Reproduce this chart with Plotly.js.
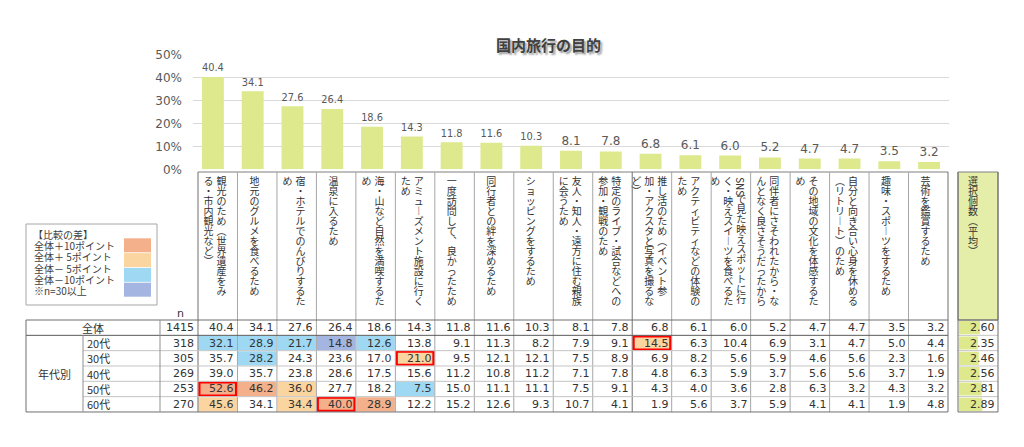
<!DOCTYPE html>
<html><head><meta charset="utf-8">
<script src="https://cdn.plot.ly/plotly-3.0.1.min.js"></script>
<style>html,body{margin:0;padding:0;background:#fff;}#chart{width:1024px;height:447px;}</style>
</head><body><div id="chart"></div>
<script>
// ---------------- data ----------------
const chartTitle = '国内旅行の目的';
// '|' marks the line breaks of the vertical header labels
const categories = [
  '観光のため（世界遺産をみ|る・市内観光など）',
  '地元のグルメを食べるため',
  '宿・ホテルでのんびりするた|め',
  '温泉に入るため',
  '海・山など自然を満喫するた|め',
  'アミューズメント施設に行く|ため',
  '一度訪問して、良かったため',
  '同行者との絆を深めるため',
  'ショッピングをするため',
  '友人・知人・遠方に住む親族|に会うため',
  '特定のライブ・試合などへの|参加・観戦のため',
  '推し活のため（イベント参|加・アクスタと写真を撮るな|ど）',
  'アクティビティなどの体験の|ため',
  'SNSで見た映えスポットに行|く・映えスイーツを食べるた|め',
  '同伴者にさそわれたから・な|んとなく良さそうだったから',
  'その地域の文化を体感するた|め',
  '自分と向き合い心身を休める|（リトリート）のため',
  '趣味・スポーツをするため',
  '芸術を鑑賞するため'
];
const overall = [40.4,34.1,27.6,26.4,18.6,14.3,11.8,11.6,10.3,8.1,7.8,6.8,6.1,6.0,5.2,4.7,4.7,3.5,3.2];
const age20 = [32.1,28.9,21.7,14.8,12.6,13.8,9.1,11.3,8.2,7.9,9.1,14.5,6.3,10.4,6.9,3.1,4.7,5.0,4.4];
const age30 = [35.7,28.2,24.3,23.6,17.0,21.0,9.5,12.1,12.1,7.5,8.9,6.9,8.2,5.6,5.9,4.6,5.6,2.3,1.6];
const age40 = [39.0,35.7,23.8,28.6,17.5,15.6,11.2,10.8,11.2,7.1,7.8,4.8,6.3,5.9,3.7,5.6,5.6,3.7,1.9];
const age50 = [52.6,46.2,36.0,27.7,18.2,7.5,15.0,11.1,11.1,7.5,9.1,4.3,4.0,3.6,2.8,6.3,3.2,4.3,3.2];
const age60 = [45.6,34.1,34.4,40.0,28.9,12.2,15.2,12.6,9.3,10.7,4.1,1.9,5.6,3.7,5.9,4.1,4.1,1.9,4.8];
const overallLabel = '全体';
const groupLabel = '年代別';
const ageLabels = ['20代','30代','40代','50代','60代'];
const nOverall = 1415;
const nAges = [318,305,269,253,270];
const avgHeader = '選択個数（平均）';
const avgSelected = [2.60,2.35,2.46,2.56,2.81,2.89];
const nHeader = 'n';
const legendTitle = '【比較の差】';
const legendItems = ['全体＋10ポイント','全体＋ 5ポイント','全体－ 5ポイント','全体－10ポイント'];
const legendNote = '※n=30以上';

// ---------------- styles / geometry ----------------
const W = 1024, H = 447;
const BAR_COLOR = '#DDE98C';
const DIFF_COLORS = ['#F4B08A', '#FBD5A0', '#9ED8F2', '#A3B5E0']; // +10, +5, -5, -10
const JP = 'Noto Sans CJK JP, Noto Sans, sans-serif';
const NUM = 'DejaVu Sans, Noto Sans CJK JP, sans-serif';
const TXT = '#333333';
const TABLE_L = 198, TABLE_R = 948, COLW = (TABLE_R - TABLE_L) / categories.length;
const HEAD_T = 172, DATA_T = 320, ROWH = 15.33;
const LEFT_L = 26, AGE_X = 83, N_X = 160;
const SEL_L = 958, SEL_R = 998;
const CHAR_P = 10, HEAD_Y0 = 182, LINE_P = 13;
const colL = k => TABLE_L + k * COLW;
const rowT = r => DATA_T + r * ROWH;

const catNames = categories.map(s => s.replace(/\|/g, ''));
const rows = [overall, age20, age30, age40, age50, age60];
const rowNames = [overallLabel].concat(ageLabels);
const nAll = [nOverall].concat(nAges);

const shapes = [], annotations = [];
const P = {xref: 'x3', yref: 'y3'};
function line(x0, y0, x1, y1, color, w) {
  shapes.push(Object.assign({type: 'line', x0, y0, x1, y1, line: {color, width: w || 1}, layer: 'above'}, P));
}
function rect(x0, y0, x1, y1, fill, lc, lw, layer) {
  shapes.push(Object.assign({type: 'rect', x0, y0, x1, y1, fillcolor: fill,
    line: {color: lc || 'rgba(0,0,0,0)', width: lw || 0}, layer: layer || 'below'}, P));
}
function text(x, y, t, opts) {
  annotations.push(Object.assign({xref: 'x3', yref: 'y3', x, y, text: t, showarrow: false,
    xanchor: 'center', yanchor: 'middle', borderpad: 0,
    font: {family: NUM, size: 11, color: TXT}}, opts || {}));
}

// ---------- vertical header text ----------
const VERT = {'（': '︵', '）': '︶', 'ー': '︱', '、': '︑'};
const hx = [], hy = [], ht = [];
function addVertical(lines, centerX) {
  const n = lines.length;
  lines.forEach((ln, j) => {
    const x = centerX + ((n - 1) / 2 - j) * LINE_P;
    let slot = 0, i = 0;
    while (i < ln.length) {
      if (/[A-Za-z0-9]/.test(ln[i])) {
        let run = '';
        while (i < ln.length && /[A-Za-z0-9]/.test(ln[i])) { run += ln[i]; i++; }
        const slots = run.length * 0.62;
        text(x, HEAD_Y0 + (slot + slots / 2 - 0.5) * CHAR_P, run,
          {textangle: 90, font: {family: JP, size: 10, color: TXT}});
        slot += slots;
      } else {
        hx.push(x); hy.push(HEAD_Y0 + slot * CHAR_P); ht.push(VERT[ln[i]] || ln[i]);
        slot++; i++;
      }
    }
  });
}
categories.forEach((c, k) => addVertical(c.split('|'), colL(k) + 17));
addVertical([avgHeader], SEL_L + 15);

// ---------- header grid ----------
rect(SEL_L, HEAD_T, SEL_R, DATA_T, '#E4EEA8', '#7f7f7f', 1, 'below');
line(TABLE_L, HEAD_T, TABLE_R, HEAD_T, '#7f7f7f');
for (let k = 0; k <= categories.length; k++) {
  const dark = (k === 0 || k === categories.length || k === 11);
  line(colL(k), HEAD_T, colL(k), rowT(6), dark ? '#6f6f6f' : '#a6a6a6');
}

// ---------- cells ----------
rows.forEach((vals, r) => {
  const yc = rowT(r) + ROWH / 2;
  let best = -1, bestDiff = 0;
  vals.forEach((v, c) => {
    if (r > 0) {
      const d = v - overall[c];
      let col = null;
      if (d >= 10) col = DIFF_COLORS[0];
      else if (d >= 5) col = DIFF_COLORS[1];
      else if (d <= -10) col = DIFF_COLORS[3];
      else if (d <= -5) col = DIFF_COLORS[2];
      if (col) rect(colL(c) + 0.5, rowT(r) + 0.5, colL(c + 1) - 0.5, rowT(r + 1) - 0.5, col);
      if (d >= 5 && d > bestDiff) { bestDiff = d; best = c; }
    }
    text(colL(c + 1) - 2, yc, v.toFixed(1), {xanchor: 'right'});
  });
  if (best >= 0) {
    shapes.push(Object.assign({type: 'rect', x0: colL(best) + 1.5, x1: colL(best + 1) - 1.5,
      y0: rowT(r) + 1.2, y1: rowT(r + 1) - 1.2, line: {color: '#FF0000', width: 2}, layer: 'above'}, P));
  }
  text(N_X + 35, yc, String(nAll[r]), {xanchor: 'right'});
  text(SEL_R - 2, yc, avgSelected[r].toFixed(2), {xanchor: 'right'});
  if (r === 0) text((LEFT_L + N_X) / 2, yc, rowNames[r], {font: {family: JP, size: 11, color: TXT}});
  else text(AGE_X + 3, yc, rowNames[r], {xanchor: 'left', font: {family: JP, size: 11, color: TXT}});
});
text((LEFT_L + AGE_X) / 2, (rowT(1) + rowT(6)) / 2, groupLabel, {font: {family: JP, size: 11, color: TXT}});
text(N_X + 20, DATA_T - 7, nHeader, {font: {family: NUM, size: 11, color: TXT}});

// data grid lines
line(LEFT_L, rowT(0), TABLE_R, rowT(0), '#6f6f6f');
line(LEFT_L, rowT(1), TABLE_R, rowT(1), '#595959');
for (let r = 2; r <= 5; r++) line(AGE_X, rowT(r), TABLE_R, rowT(r), '#c4c4c4');
line(LEFT_L, rowT(6), TABLE_R, rowT(6), '#6f6f6f');
line(LEFT_L, rowT(0), LEFT_L, rowT(6), '#6f6f6f');
line(AGE_X, rowT(1), AGE_X, rowT(6), '#8f8f8f');
line(N_X, rowT(0), N_X, rowT(6), '#8f8f8f');
// selection column grid
for (let r = 0; r <= 6; r++) line(SEL_L, rowT(r), SEL_R, rowT(r), r === 0 || r === 6 ? '#6f6f6f' : '#c4c4c4');
line(SEL_L, HEAD_T, SEL_L, rowT(6), '#6f6f6f');
line(SEL_R, HEAD_T, SEL_R, rowT(6), '#6f6f6f');

// ---------- legend box ----------
rect(LEFT_L, 224, 157, 305, 'rgba(0,0,0,0)', '#a6a6a6', 1, 'above');
text(32, 234, legendTitle, {xanchor: 'left', font: {family: JP, size: 10, color: '#404040'}});
legendItems.forEach((t, i) => {
  text(33, 245.5 + i * 11.3, t, {xanchor: 'left', font: {family: JP, size: 10, color: '#404040'}});
  rect(124, 238.3 + i * 14.8, 151, 252.3 + i * 14.8, DIFF_COLORS[i]);
});
text(33, 245.5 + 4 * 11.3, legendNote, {xanchor: 'left', font: {family: JP, size: 10, color: '#404040'}});

// ---------- title ----------
annotations.push({xref: 'paper', yref: 'paper', x: 548 / W, y: 1 - 44 / H, showarrow: false,
  text: '<b>' + chartTitle + '</b>', xanchor: 'center', yanchor: 'middle',
  font: {family: JP, size: 15, color: '#404040', shadow: '2px 2px 2px #9a9a9a'}});

// ---------------- traces ----------------
const traces = [
  {type: 'bar', x: catNames, y: overall, marker: {color: BAR_COLOR}, width: 0.55,
   text: overall.map(v => v.toFixed(1)), textposition: 'outside', cliponaxis: false,
   textfont: {family: NUM, size: 12, color: '#595959'}, hoverinfo: 'skip'},
  {type: 'bar', orientation: 'h', x: avgSelected, y: rowNames, xaxis: 'x2', yaxis: 'y2',
   marker: {color: BAR_COLOR}, width: 0.86, hoverinfo: 'skip'},
  {type: 'scatter', mode: 'text', x: hx, y: hy, text: ht, xaxis: 'x3', yaxis: 'y3',
   textposition: 'middle center', textfont: {family: JP, size: 10, color: TXT}, hoverinfo: 'skip'}
];

const layout = {
  width: W, height: H, margin: {l: 0, r: 0, t: 0, b: 0},
  paper_bgcolor: '#ffffff', plot_bgcolor: 'rgba(0,0,0,0)', showlegend: false,
  xaxis: {domain: [193 / W, 949 / W], type: 'category', range: [-0.5, 18.5],
          showticklabels: false, showgrid: false, zeroline: false, showline: false, ticks: '', fixedrange: true},
  yaxis: {domain: [1 - 169.3 / H, 1 - 55 / H], range: [0, 50], dtick: 10, ticksuffix: '%',
          gridcolor: '#D9D9D9', zeroline: false, showline: false, ticks: '', ticklabelstandoff: 10,
          tickfont: {family: NUM, size: 12, color: '#595959'}, fixedrange: true},
  xaxis2: {domain: [958.5 / W, 998 / W], range: [0, 4.8], visible: false, fixedrange: true, anchor: 'y2'},
  yaxis2: {domain: [1 - rowT(6) / H, 1 - rowT(0) / H], type: 'category', range: [5.5, -0.5],
           visible: false, fixedrange: true, anchor: 'x2'},
  xaxis3: {domain: [0, 1], range: [0, W], visible: false, fixedrange: true, anchor: 'y3'},
  yaxis3: {domain: [0, 1], range: [H, 0], visible: false, fixedrange: true, anchor: 'x3'},
  shapes, annotations
};
Plotly.newPlot('chart', traces, layout, {displayModeBar: false, staticPlot: true});
</script></body></html>
